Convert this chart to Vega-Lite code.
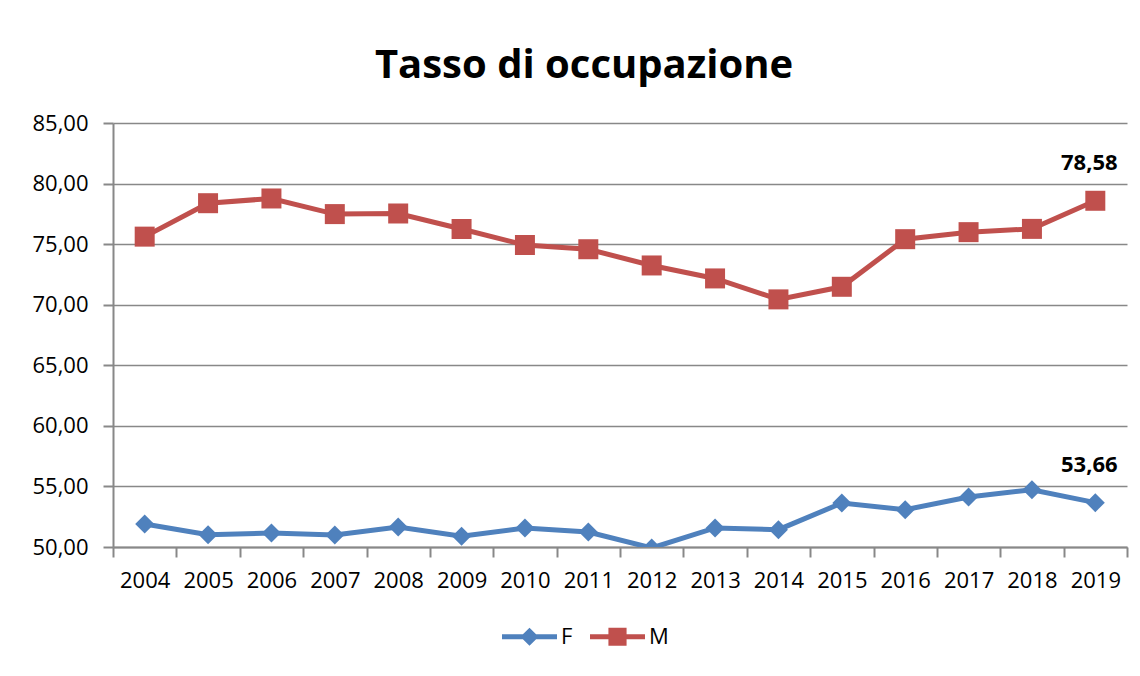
{
  "$schema": "https://vega.github.io/schema/vega-lite/v6.json",
  "width": 1014,
  "height": 424,
  "autosize": {"type": "none"},
  "padding": {"left": 113, "top": 123, "right": 13, "bottom": 129},
  "background": "white",
  "config": {
    "locale": {"number": {"decimal": ",", "thousands": ".", "grouping": [3], "currency": ["€", ""]}},
    "view": {"stroke": null},
    "font": "Open Sans",
    "axis": {
      "domainColor": "#888888",
      "domainWidth": 2,
      "tickColor": "#888888",
      "tickWidth": 2,
      "tickSize": 10,
      "gridColor": "#888888",
      "gridWidth": 1.5,
      "labelFont": "Open Sans",
      "labelFontSize": 22,
      "labelColor": "#000000",
      "title": null
    }
  },
  "title": {
    "text": "Tasso di occupazione",
    "font": "Open Sans",
    "fontSize": 40,
    "fontWeight": "bold",
    "color": "#000000",
    "anchor": "middle",
    "frame": "group",
    "dx": -36,
    "offset": 26
  },
  "data": {
    "values": [
      {"anno": "2004", "sesso": "F", "valore": 51.90},
      {"anno": "2005", "sesso": "F", "valore": 51.02},
      {"anno": "2006", "sesso": "F", "valore": 51.15},
      {"anno": "2007", "sesso": "F", "valore": 50.99},
      {"anno": "2008", "sesso": "F", "valore": 51.65},
      {"anno": "2009", "sesso": "F", "valore": 50.88},
      {"anno": "2010", "sesso": "F", "valore": 51.57},
      {"anno": "2011", "sesso": "F", "valore": 51.24},
      {"anno": "2012", "sesso": "F", "valore": 49.92},
      {"anno": "2013", "sesso": "F", "valore": 51.57},
      {"anno": "2014", "sesso": "F", "valore": 51.43},
      {"anno": "2015", "sesso": "F", "valore": 53.63},
      {"anno": "2016", "sesso": "F", "valore": 53.08},
      {"anno": "2017", "sesso": "F", "valore": 54.12},
      {"anno": "2018", "sesso": "F", "valore": 54.73},
      {"anno": "2019", "sesso": "F", "valore": 53.66},
      {"anno": "2004", "sesso": "M", "valore": 75.62},
      {"anno": "2005", "sesso": "M", "valore": 78.38},
      {"anno": "2006", "sesso": "M", "valore": 78.77},
      {"anno": "2007", "sesso": "M", "valore": 77.48},
      {"anno": "2008", "sesso": "M", "valore": 77.53},
      {"anno": "2009", "sesso": "M", "valore": 76.25},
      {"anno": "2010", "sesso": "M", "valore": 74.93},
      {"anno": "2011", "sesso": "M", "valore": 74.58},
      {"anno": "2012", "sesso": "M", "valore": 73.24},
      {"anno": "2013", "sesso": "M", "valore": 72.17},
      {"anno": "2014", "sesso": "M", "valore": 70.44},
      {"anno": "2015", "sesso": "M", "valore": 71.48},
      {"anno": "2016", "sesso": "M", "valore": 75.41},
      {"anno": "2017", "sesso": "M", "valore": 75.99},
      {"anno": "2018", "sesso": "M", "valore": 76.26},
      {"anno": "2019", "sesso": "M", "valore": 78.58}
    ]
  },
  "encoding": {
    "x": {
      "field": "anno",
      "type": "ordinal",
      "bandPosition": 0.5,
      "scale": {"type": "band", "paddingInner": 0, "paddingOuter": 0},
      "axis": {"labelAngle": 0, "tickBand": "extent", "grid": false, "labelPadding": 13}
    },
    "y": {
      "field": "valore",
      "type": "quantitative",
      "scale": {"domain": [50, 85], "nice": false, "zero": false},
      "axis": {"values": [50, 55, 60, 65, 70, 75, 80, 85], "format": ".2f", "grid": true, "labelPadding": 15}
    }
  },
  "layer": [
    {
      "mark": {"type": "line", "strokeWidth": 5, "clip": true},
      "encoding": {
        "color": {
          "field": "sesso",
          "type": "nominal",
          "scale": {"domain": ["F", "M"], "range": ["#4F81BD", "#C0504D"]},
          "legend": {
            "title": null,
            "orient": "none",
            "direction": "horizontal",
            "legendX": 389,
            "legendY": 486,
            "padding": 0,
            "symbolSize": 3025,
            "symbolStrokeWidth": 0,
            "labelFont": "Open Sans",
            "labelFontSize": 22,
            "labelColor": "#000000",
            "labelOffset": 4,
            "columnPadding": 17,
            "encode": {
              "symbols": {
                "update": {
                  "shape": {"signal": "datum.value == 'F' ? 'M-1,-0.09L-0.24,-0.09L0,-0.33L0.24,-0.09L1,-0.09L1,0.09L0.24,0.09L0,0.33L-0.24,0.09L-1,0.09Z' : 'M-1,-0.09L-0.33,-0.09L-0.33,-0.33L0.33,-0.33L0.33,-0.09L1,-0.09L1,0.09L0.33,0.09L0.33,0.33L-0.33,0.33L-0.33,0.09L-1,0.09Z'"},
                  "fill": {"signal": "datum.value == 'F' ? '#4F81BD' : '#C0504D'"},
                  "stroke": {"value": "transparent"},
                  "opacity": {"value": 1},
                  "fillOpacity": {"value": 1},
                  "size": {"value": 3025}
                }
              }
            }
          }
        }
      }
    },
    {
      "transform": [{"filter": "datum.sesso == 'F'"}],
      "mark": {"type": "point", "filled": true, "opacity": 1, "size": 360, "shape": "diamond", "color": "#4F81BD", "clip": true},
      "encoding": {}
    },
    {
      "transform": [{"filter": "datum.sesso == 'M'"}],
      "mark": {"type": "point", "filled": true, "opacity": 1, "size": 400, "shape": "square", "color": "#C0504D", "clip": true},
      "encoding": {}
    },
    {
      "transform": [{"filter": "datum.anno == '2019'"}],
      "mark": {"type": "text", "dy": -38, "dx": -6, "fontWeight": "bold", "fontSize": 22, "font": "Open Sans", "color": "#000000", "baseline": "middle"},
      "encoding": {
        "text": {"field": "valore", "type": "quantitative", "format": ".2f"}
      }
    }
  ]
}
